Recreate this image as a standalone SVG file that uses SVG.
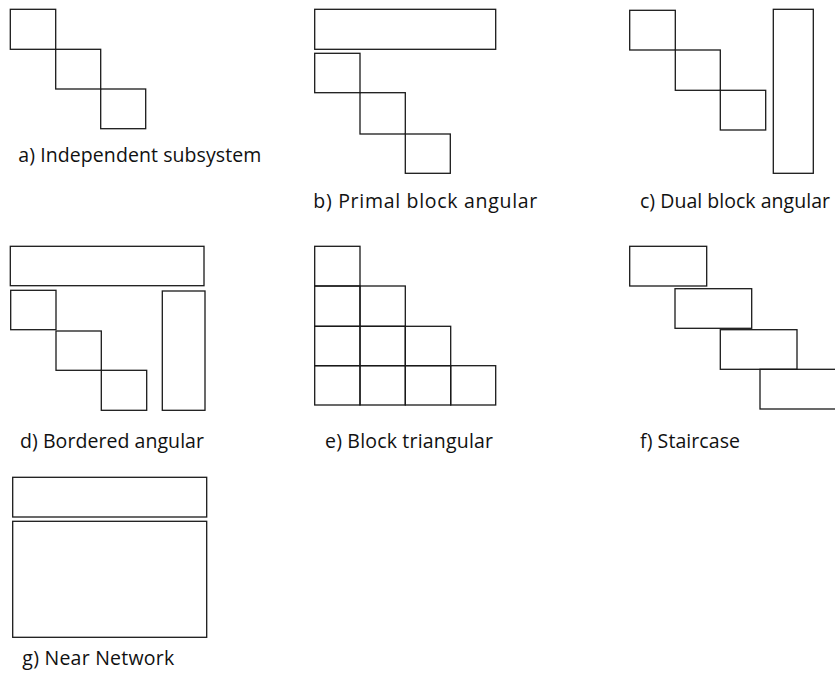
<svg xmlns="http://www.w3.org/2000/svg" width="835" height="673" viewBox="0 0 835 673">
<style>
rect{fill:none;stroke:#1a1a1a;stroke-width:1.3}
text{font-family:"Open Sans","Liberation Sans",sans-serif;font-size:19.5px;fill:#111}
</style>
<rect x="0" y="0" width="835" height="673" style="fill:#fff;stroke:none"/>
<g id="a">
<rect x="10.3" y="9.3" width="45.4" height="40"/>
<rect x="55.7" y="49.3" width="45" height="39.7"/>
<rect x="100.7" y="89" width="45" height="39.7"/>
<text x="18.3" y="161.7" textLength="243">a) Independent subsystem</text>
</g>
<g id="b">
<rect x="314.7" y="9.3" width="181" height="40"/>
<rect x="314.7" y="53.3" width="45.3" height="39.4"/>
<rect x="360" y="92.7" width="45.3" height="41.3"/>
<rect x="405.3" y="134" width="45" height="39.3"/>
<text x="313.3" y="208.3" textLength="224">b) Primal block angular</text>
</g>
<g id="c">
<rect x="629.7" y="10.3" width="45.6" height="39.7"/>
<rect x="675.3" y="50" width="45" height="40.3"/>
<rect x="720.3" y="90.3" width="45.4" height="39.7"/>
<rect x="773.3" y="9.3" width="40" height="164"/>
<text x="640" y="208.3" textLength="190">c) Dual block angular</text>
</g>
<g id="d">
<rect x="10.3" y="246.3" width="193.7" height="39.4"/>
<rect x="10.7" y="290.3" width="45.3" height="39.4"/>
<rect x="56" y="331" width="45.3" height="39.3"/>
<rect x="101.3" y="370.3" width="45.4" height="40"/>
<rect x="162.3" y="291" width="42.7" height="119.3"/>
<text x="20" y="448.3" textLength="184">d) Bordered angular</text>
</g>
<g id="e">
<rect x="314.7" y="246.3" width="45.3" height="39.7"/>
<rect x="314.7" y="286" width="45.3" height="40.3"/>
<rect x="360" y="286" width="45.3" height="40.3"/>
<rect x="314.7" y="326.3" width="45.3" height="39.4"/>
<rect x="360" y="326.3" width="45.3" height="39.4"/>
<rect x="405.3" y="326.3" width="45.4" height="39.4"/>
<rect x="314.7" y="365.7" width="45.3" height="39.3"/>
<rect x="360" y="365.7" width="45.3" height="39.3"/>
<rect x="405.3" y="365.7" width="45.4" height="39.3"/>
<rect x="450.7" y="365.7" width="45" height="39.3"/>
<text x="325" y="448.3" textLength="168">e) Block triangular</text>
</g>
<g id="f">
<rect x="629.7" y="246.3" width="77" height="39.7"/>
<rect x="675" y="288.7" width="76.7" height="39.6"/>
<rect x="720.3" y="329.7" width="76.7" height="39.6"/>
<rect x="760" y="369.3" width="80" height="39.7"/>
<text x="640" y="448.3" textLength="100">f) Staircase</text>
</g>
<g id="g">
<rect x="12.7" y="477.3" width="194" height="39.7"/>
<rect x="12.7" y="521.3" width="194" height="116"/>
<text x="22.3" y="665" textLength="152">g) Near Network</text>
</g>
<g id="connectors"/>
</svg>
